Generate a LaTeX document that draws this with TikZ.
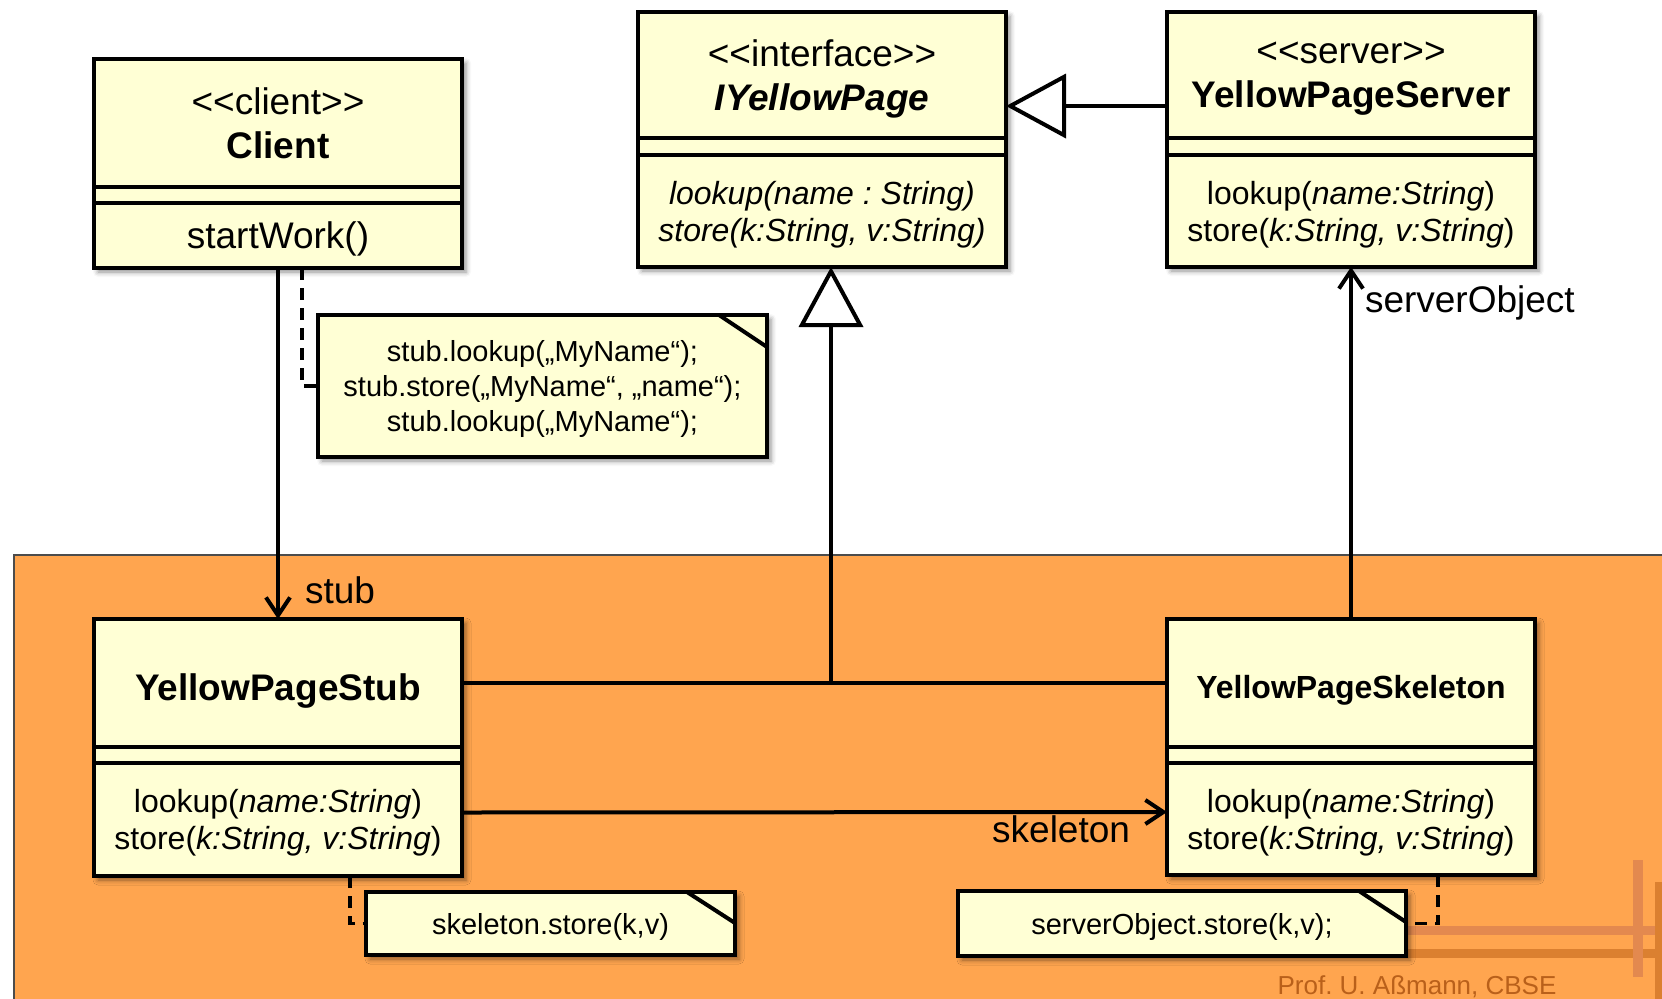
\documentclass[tikz,border=0pt]{standalone}
\usepackage{fontspec}
\setmainfont{Liberation Sans}
\usepackage{xcolor}
\usepackage{tikz}
\usetikzlibrary{positioning,arrows.meta,calc,shadows.blur}
\definecolor{classfill}{HTML}{FFFFD5}
\definecolor{pkgorange}{HTML}{FFA54F}
\definecolor{logolight}{HTML}{E3894F}
\definecolor{logodark}{HTML}{DB8030}
\definecolor{footercol}{HTML}{B9601A}
\newcommand{\stereo}[1]{<\kern0pt<#1>\kern0pt>}
\newcommand{\opsig}{lookup(\textit{name:String})\\store(\textit{k:String, v:String})}
\frenchspacing

\begin{document}
\begin{tikzpicture}[x=0.5pt,y=-0.5pt,
  classbox/.style={draw,line width=2pt,fill=classfill,minimum width=184pt,
                   inner sep=0pt,outer sep=0pt,align=center},
  ctitle/.style={classbox,minimum height=64pt,font=\fontsize{18.5}{22}\selectfont},
  csep/.style={classbox,minimum height=8pt},
  cops/.style={classbox,minimum height=56pt,text depth=0pt,
               font=\fontsize{16}{18.5}\selectfont},
  shade/.style={blur shadow={shadow xshift=2pt,shadow yshift=-2pt,
                shadow blur radius=2.5pt,shadow opacity=45}},
  note/.style={draw,line width=2pt,fill=classfill,inner sep=0pt,outer sep=0pt,
               align=center,text depth=0pt,font=\fontsize{14.5}{17.5}\selectfont,shade},
  fold/.style={line width=2pt},
  lbl/.style={inner sep=0pt,font=\fontsize{18.5}{22}\selectfont},
  nav/.style={line width=2pt,-{Straight Barb[length=9pt,width=12pt]}},
  gen/.style={line width=2pt,-{Triangle[open,fill=white,length=30pt,width=32pt]}},
  assoc/.style={line width=2pt},
  noteline/.style={line width=1.7pt,dash pattern=on 6pt off 4pt}]
\useasboundingbox (0,0) rectangle (1662,998);

% package area and logo
\draw[draw=black!70,line width=0.6pt,fill=pkgorange] (14,555) rectangle (1680,1010);
\draw[logolight,line width=4.5pt] (1300,930) -- (1662,930);
\draw[logodark,line width=4.5pt] (1300,953) -- (1662,953);
\draw[logolight,line width=5pt] (1638,860) -- (1638,977);
\draw[logodark,line width=5pt] (1660,882) -- (1660,1000);
\node[anchor=base,text=footercol,font=\fontsize{13}{15}\selectfont] (footer)
  at (1417,994) {Prof. U. Aßmann, CBSE};

% classes
\node[classbox,shade,minimum height=104.5pt,anchor=north] (client) at (278,59) {};
\node[ctitle,below=0pt of client.north] (client-name) {\stereo{client}\\\textbf{Client}};
\node[csep,below=0pt of client-name] (client-sep) {};
\node[cops,minimum height=32.5pt,font=\fontsize{18.5}{22}\selectfont,
      below=0pt of client-sep] (client-ops) {startWork()};

\node[classbox,shade,minimum height=127.5pt,anchor=north] (iface) at (822,12) {};
\node[ctitle,minimum height=63pt,text depth=0pt,below=0pt of iface.north] (iface-name)
  {\stereo{interface}\\\textbf{\textit{IYellowPage}}};
\node[csep,minimum height=8.5pt,below=0pt of iface-name] (iface-sep) {};
\node[cops,below=0pt of iface-sep] (iface-ops)
  {\textit{lookup(name : String)}\\\textit{store(k:String, v:String)}};

\node[classbox,shade,minimum height=127.5pt,anchor=north] (server) at (1351,12) {};
\node[ctitle,minimum height=63pt,text depth=0pt,below=0pt of server.north] (server-name)
  {\stereo{server}\\\textbf{YellowPageServer}};
\node[csep,minimum height=8.5pt,below=0pt of server-name] (server-sep) {};
\node[cops,below=0pt of server-sep] (server-ops) {\opsig};

\node[classbox,shade,minimum height=128.5pt,anchor=north] (stub) at (278,619) {};
\node[ctitle,text height=17pt,text depth=0pt,below=0pt of stub.north] (stub-name)
  {\textbf{YellowPageStub}};
\node[csep,below=0pt of stub-name] (stub-sep) {};
\node[cops,minimum height=56.5pt,below=0pt of stub-sep] (stub-ops) {\opsig};

\node[classbox,shade,minimum height=128pt,anchor=north] (skel) at (1351,619) {};
\node[ctitle,text height=15.5pt,text depth=0pt,font=\fontsize{16}{19}\selectfont,
      below=0pt of skel.north] (skel-name) {\textbf{YellowPageSkeleton}};
\node[csep,below=0pt of skel-name] (skel-sep) {};
\node[cops,below=0pt of skel-sep] (skel-ops) {\opsig};

% notes
\node[note,minimum width=224.5pt,minimum height=71pt] (note-client) at (542.5,386)
  {stub.lookup(„MyName“);\\stub.store(„MyName“, „name“);\\stub.lookup(„MyName“);};
\draw[fold] ([xshift=-24pt]note-client.north east) -- ([yshift=-16pt]note-client.north east);
\node[note,minimum width=184.5pt,minimum height=31.5pt] (note-stub) at (550.5,923.5)
  {skeleton.store(k,v)};
\draw[fold] ([xshift=-24pt]note-stub.north east) -- ([yshift=-15.5pt]note-stub.north east);
\node[note,minimum width=224pt,minimum height=32.5pt] (note-skel) at (1182,923.5)
  {serverObject.store(k,v);};
\draw[fold] ([xshift=-23.5pt]note-skel.north east) -- ([yshift=-15.5pt]note-skel.north east);

% connectors
\draw[nav] (client-ops.south) -- node[lbl,pos=0.917,right=12.5pt] {stub} (stub.north);
\draw[assoc] (stub-name.east) -- (skel-name.west);
\coordinate (gen-foot) at (831,683);
\draw[gen] (gen-foot) -- (gen-foot |- iface-ops.south);
\draw[gen] ([yshift=-15.5pt]server-name.west) -- ([yshift=-15.5pt]iface-name.east);
\draw[nav] ([yshift=3.5pt]stub-ops.east) --
  node[lbl,pos=1,anchor=east,xshift=-17.5pt,yshift=-8.5pt] {skeleton}
  ([yshift=3.5pt]skel-ops.west);
\draw[nav] (skel.north) -- node[lbl,pos=0.898,right=6pt] {serverObject} (server-ops.south);
\draw[noteline] ([xshift=12pt]client-ops.south) |- (note-client.west);
\draw[noteline] ([xshift=36pt]stub-ops.south) |- (note-stub.west);
\draw[noteline] ([xshift=43.5pt]skel-ops.south) |- (note-skel.east);
\end{tikzpicture}
\end{document}
